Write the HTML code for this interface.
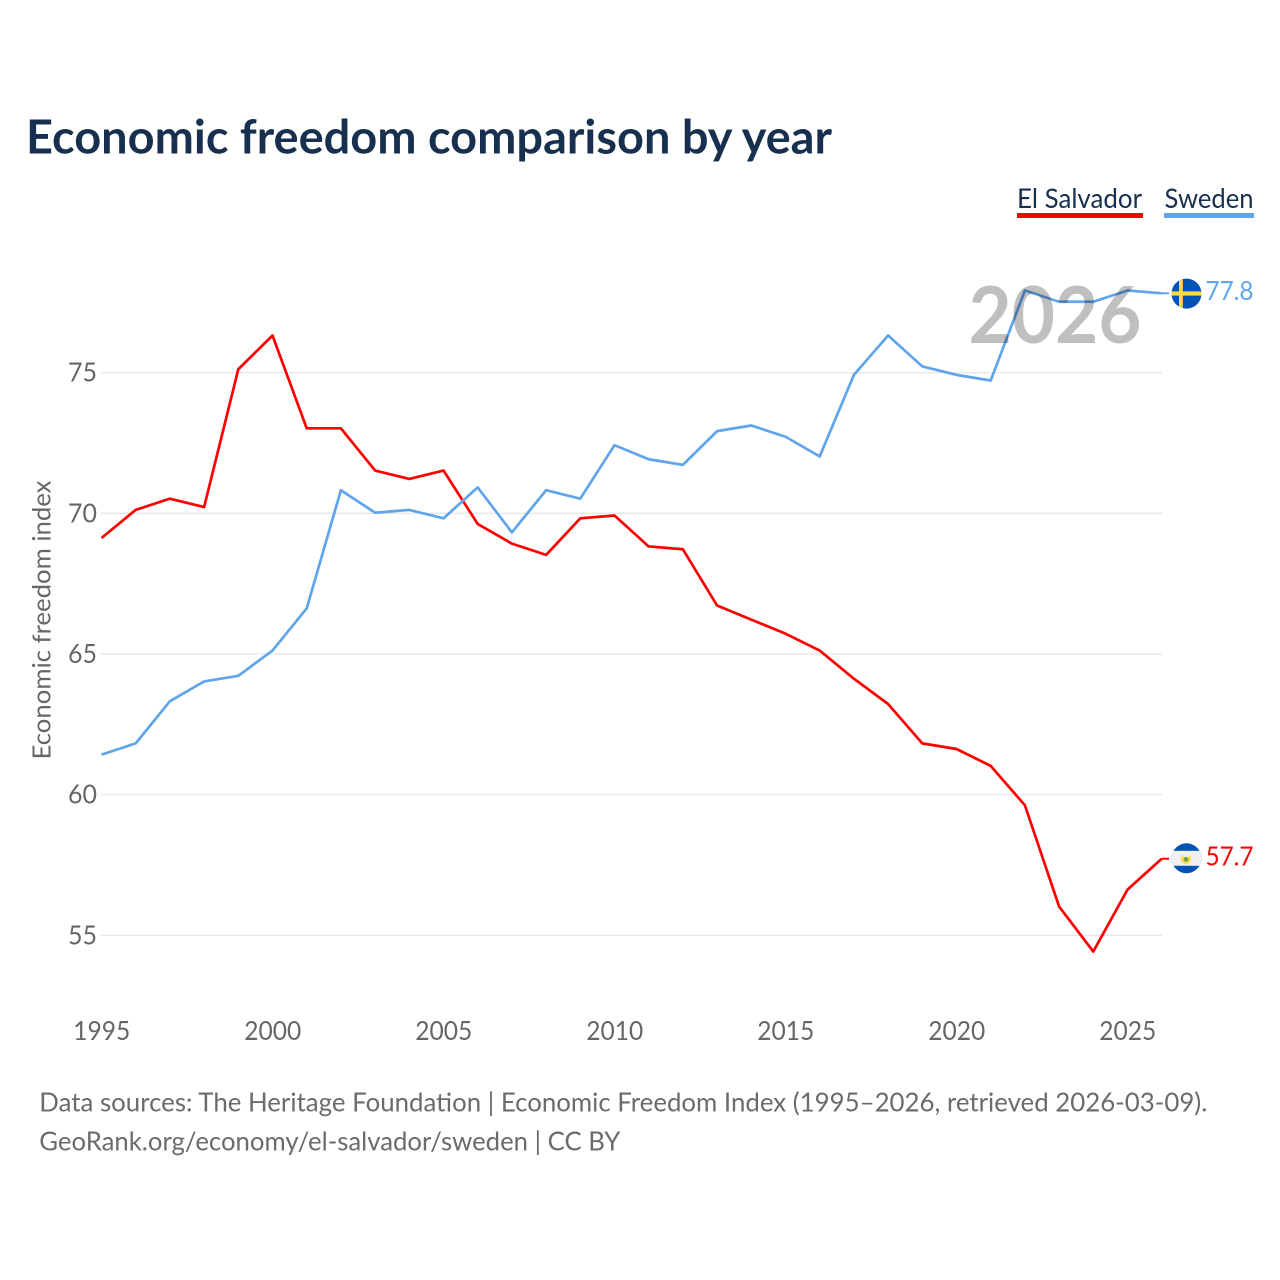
<!DOCTYPE html>
<html lang="en">
<head>
<meta charset="utf-8">
<title>Economic freedom comparison by year</title>
<style>
html,body{margin:0;padding:0;background:#fff;}
svg{display:block;}
text{font-family:"Lato","Carlito","Liberation Sans",sans-serif;}
</style>
</head>
<body>
<svg id="chart" width="1280" height="1280" viewBox="0 0 1280 1280" xmlns="http://www.w3.org/2000/svg">
  <rect width="1280" height="1280" fill="#ffffff"/>
  <text x="26" y="153.3" font-size="47" font-weight="700" fill="#18304f" textLength="806" lengthAdjust="spacingAndGlyphs">Economic freedom comparison by year</text>

  <g>
    <g>
      <text x="1017" y="208" font-size="27.5" fill="#18304f" textLength="125" lengthAdjust="spacingAndGlyphs">El Salvador</text>
      <rect x="1017" y="213" width="126" height="5" fill="#ff0000"/>
    </g>
    <g>
      <text x="1164.5" y="208" font-size="27.5" fill="#18304f" textLength="89" lengthAdjust="spacingAndGlyphs">Sweden</text>
      <rect x="1164" y="213" width="90" height="5" fill="#60a5ec"/>
    </g>
  </g>

  <g id="grid"></g>
  <g id="yticks"></g>
  <g id="xticks"></g>
  <text transform="translate(50.5 620) rotate(-90)" text-anchor="middle" font-size="25.5" fill="#666666" textLength="279" lengthAdjust="spacingAndGlyphs">Economic freedom index</text>

  <g id="series"></g>

  <text id="year-label" x="968.5" y="343" font-size="79" font-weight="700" fill="#000000" fill-opacity="0.25" textLength="173" lengthAdjust="spacingAndGlyphs">2026</text>

  <defs>
    <clipPath id="clip-se"><circle id="clip-se-c" r="15"/></clipPath>
    <clipPath id="clip-sv"><circle id="clip-sv-c" r="15"/></clipPath>
  </defs>
  <g id="flag-se"></g>
  <g id="flag-sv"></g>

  <text x="39.3" y="1111.7" font-size="26" fill="#6b6b6b" textLength="1168" lengthAdjust="spacingAndGlyphs">Data sources: The Heritage Foundation | Economic Freedom Index (1995–2026, retrieved 2026-03-09).</text>
  <text x="39.3" y="1150.7" font-size="26" fill="#6b6b6b" textLength="581" lengthAdjust="spacingAndGlyphs">GeoRank.org/economy/el-salvador/sweden | CC BY</text>
</svg>

<script>
const years = [1995,1996,1997,1998,1999,2000,2001,2002,2003,2004,2005,2006,2007,2008,2009,2010,2011,2012,2013,2014,2015,2016,2017,2018,2019,2020,2021,2022,2023,2024,2025,2026];
const elSalvador = [69.1,70.1,70.5,70.2,75.1,76.3,73.0,73.0,71.5,71.2,71.5,69.6,68.9,68.5,69.8,69.9,68.8,68.7,66.7,66.2,65.7,65.1,64.1,63.2,61.8,61.6,61.0,59.6,56.0,54.4,56.6,57.7];
const sweden = [61.4,61.8,63.3,64.0,64.2,65.1,66.6,70.8,70.0,70.1,69.8,70.9,69.3,70.8,70.5,72.4,71.9,71.7,72.9,73.1,72.7,72.0,74.9,76.3,75.2,74.9,74.7,77.9,77.5,77.5,77.9,77.8];
const yTickValues = [55,60,65,70,75];
const xTickValues = [1995,2000,2005,2010,2015,2020,2025];

const NS = 'http://www.w3.org/2000/svg';
const xScale = function (year) { return 101.5 + (year - 1995) * 34.2; };
const yScale = function (value) { return 513.3 - (value - 70) * 28.13; };
const make = function (tag, parent) {
  const el = document.createElementNS(NS, tag);
  parent.appendChild(el);
  return el;
};

const grid = document.getElementById('grid');
const yticks = document.getElementById('yticks');
yTickValues.forEach(function (v) {
  const line = make('line', grid);
  
  
  line.setAttribute('x1', 101);
  line.setAttribute('x2', 1162);
  line.setAttribute('y1', yScale(v));
  line.setAttribute('y2', yScale(v));
  line.setAttribute('stroke', '#e8e8e8');
  line.setAttribute('stroke-width', 1.4);
  const label = make('text', yticks);
  
  
  label.setAttribute('x', 97);
  label.setAttribute('y', yScale(v) + 9);
  label.setAttribute('text-anchor', 'end');
  label.setAttribute('font-size', 26);
  label.setAttribute('fill', '#666666');
  label.setAttribute('textLength', 29);
  label.setAttribute('lengthAdjust', 'spacingAndGlyphs');
  label.textContent = String(v);
});

const xticks = document.getElementById('xticks');
xTickValues.forEach(function (y) {
  const label = make('text', xticks);
  
  
  label.setAttribute('x', xScale(y) + 0.3);
  label.setAttribute('y', 1040);
  label.setAttribute('text-anchor', 'middle');
  label.setAttribute('font-size', 26);
  label.setAttribute('fill', '#666666');
  label.setAttribute('textLength', 57);
  label.setAttribute('lengthAdjust', 'spacingAndGlyphs');
  label.textContent = String(y);
});

const seriesGroup = document.getElementById('series');
const drawSeries = function (name, values, color) {
  const last = values.length - 1;
  const path = make('polyline', seriesGroup);
  
  
  path.setAttribute('points', values.map(function (v, i) { return xScale(years[i]) + ',' + yScale(v); }).join(' '));
  path.setAttribute('transform', 'translate(0 -0.6)');
  path.setAttribute('fill', 'none');
  path.setAttribute('stroke', color);
  path.setAttribute('stroke-width', 2.7);
  path.setAttribute('stroke-linejoin', 'round');
  const conn = make('line', seriesGroup);
  
  
  conn.setAttribute('x1', xScale(years[last]));
  conn.setAttribute('x2', 1169);
  conn.setAttribute('y1', yScale(values[last]) - 0.6);
  conn.setAttribute('y2', yScale(values[last]) - 0.6);
  conn.setAttribute('stroke', color);
  conn.setAttribute('stroke-width', 2);
  const label = make('text', seriesGroup);
  
  
  label.setAttribute('x', 1205.5);
  label.setAttribute('y', yScale(values[last]) + 6);
  label.setAttribute('font-size', 26.5);
  label.setAttribute('fill', color);
  label.setAttribute('textLength', 48);
  label.setAttribute('lengthAdjust', 'spacingAndGlyphs');
  label.textContent = values[last].toFixed(1);
};
drawSeries('el-salvador', elSalvador, '#ff0000');
drawSeries('sweden', sweden, '#60a5ec');

const addShape = function (parent, tag, attrs) {
  const el = make(tag, parent);
  Object.keys(attrs).forEach(function (k) { el.setAttribute(k, attrs[k]); });
  return el;
};

const seY = yScale(sweden[sweden.length - 1]) - 0.3;
const seC = document.getElementById('clip-se-c');
seC.setAttribute('cx', 1186.5);
seC.setAttribute('cy', seY);
const flagSe = document.getElementById('flag-se');
flagSe.setAttribute('clip-path', 'url(#clip-se)');
addShape(flagSe, 'rect', { x: 1171, y: seY - 16, width: 31, height: 32, fill: '#0052b4' });
addShape(flagSe, 'rect', { x: 1171, y: seY - 2.2, width: 31, height: 4.2, fill: '#ffda44' });
addShape(flagSe, 'rect', { x: 1179, y: seY - 16, width: 3.8, height: 32, fill: '#ffda44' });

const svY = yScale(elSalvador[elSalvador.length - 1]) - 1;
const svC = document.getElementById('clip-sv-c');
svC.setAttribute('cx', 1186.5);
svC.setAttribute('cy', svY);
const flagSv = document.getElementById('flag-sv');
flagSv.setAttribute('clip-path', 'url(#clip-sv)');
addShape(flagSv, 'rect', { x: 1171, y: svY - 16, width: 31, height: 32, fill: '#0052b4' });
addShape(flagSv, 'rect', { x: 1171, y: svY - 7.5, width: 31, height: 15, fill: '#f0f0f0' });
addShape(flagSv, 'circle', { cx: 1186, cy: svY + 0.5, r: 5, fill: '#ffda44' });
addShape(flagSv, 'rect', { x: 1183.5, y: svY - 4.5, width: 5, height: 4, fill: '#f0f0f0' });
addShape(flagSv, 'circle', { cx: 1186, cy: svY + 1, r: 2.4, fill: '#6da544' });
</script>
</body>
</html>
